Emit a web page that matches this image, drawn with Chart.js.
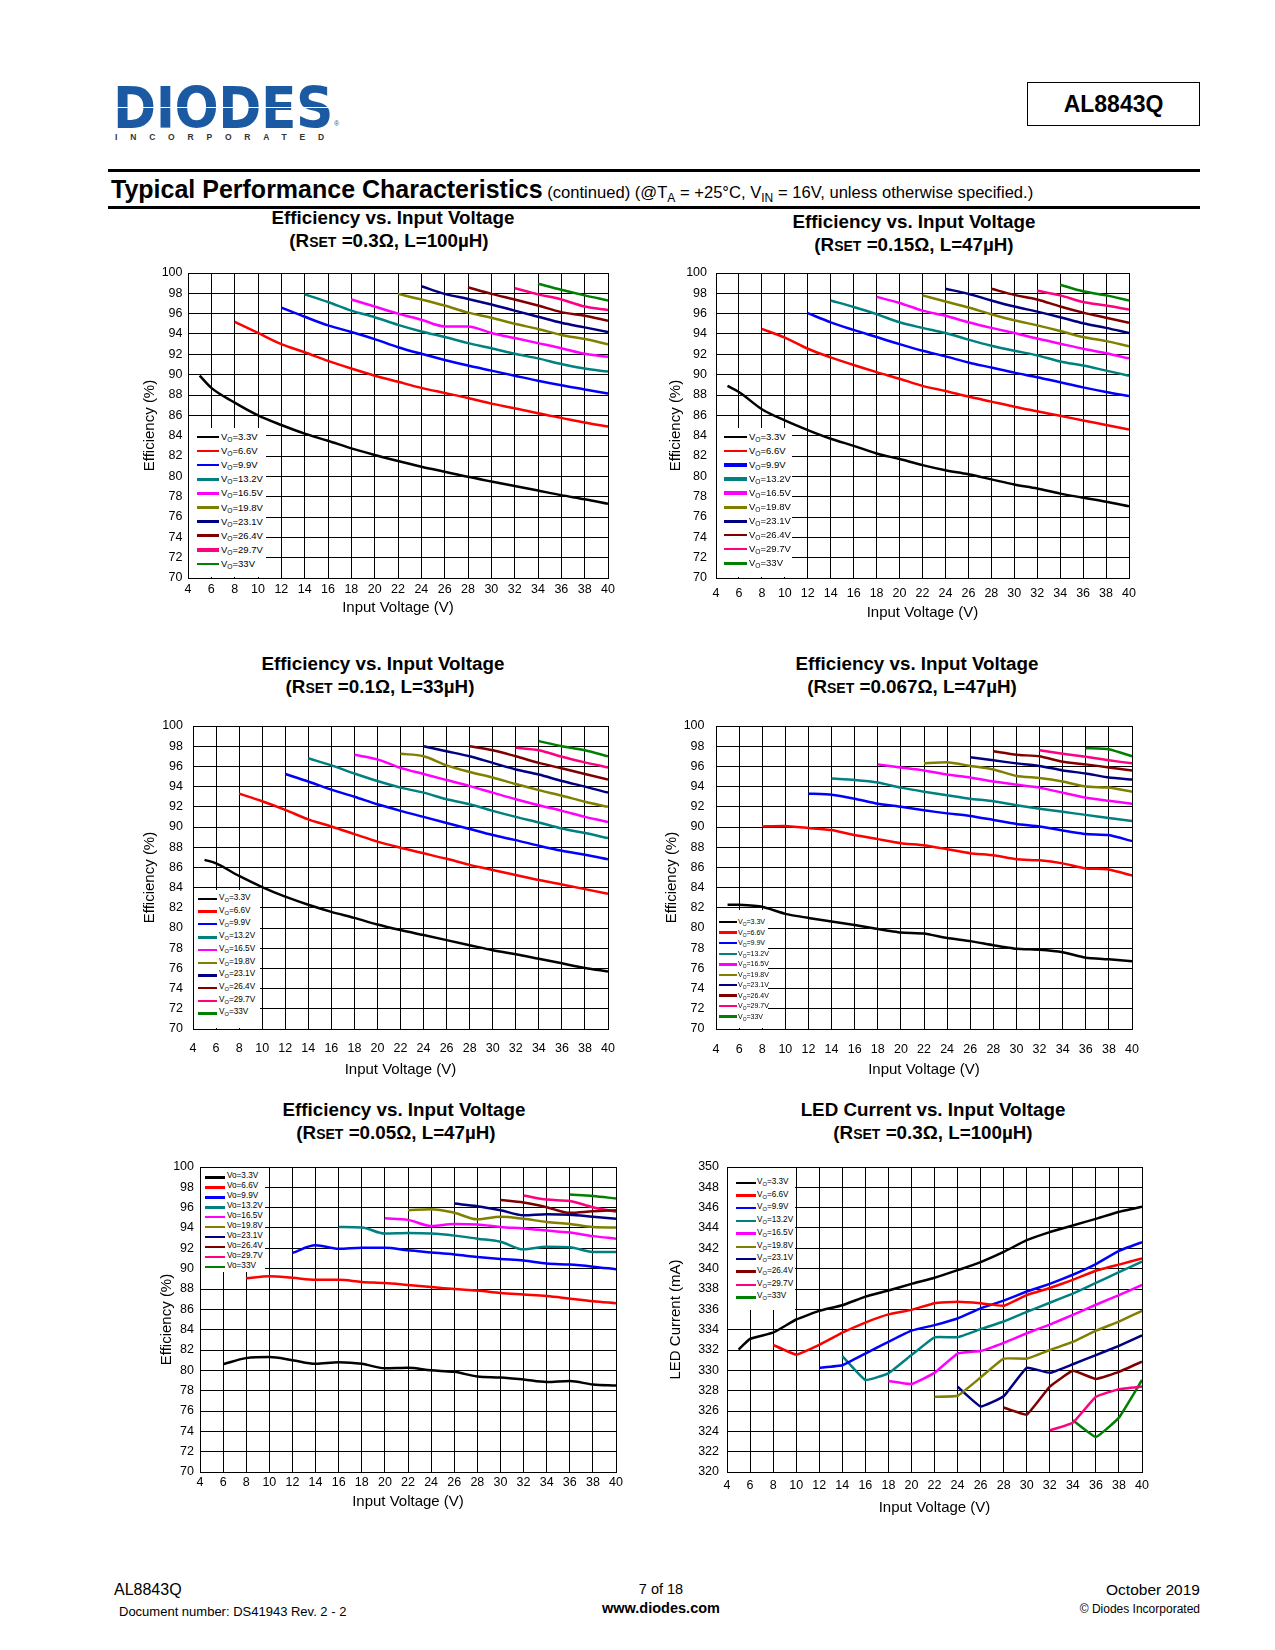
<!DOCTYPE html>
<html lang="en">
<head>
<meta charset="UTF-8">
<title>AL8843Q - Typical Performance Characteristics</title>
<script src="https://cdn.jsdelivr.net/npm/chart.js"></script>
<style>
  body { margin: 0; background: #fff; font-family: 'Liberation Sans', Arial, sans-serif; color: #000; }
  .page { position: relative; width: 1275px; height: 1650px; overflow: hidden; background: #fff; }
  .abs { position: absolute; white-space: nowrap; }
  .mid { transform: translate(-50%, -50%); }
  .logo {
    font-family: 'DejaVu Sans', sans-serif; font-weight: bold; font-size: 52px; line-height: 52px; letter-spacing: -0.5px;
    transform: scaleY(1.1); transform-origin: left top;
    background: linear-gradient(to bottom, #1b5aa3 0, #1b5aa3 47%, #fff 47%, #fff 49.5%, #1b5aa3 49.5%, #1b5aa3 100%);
    -webkit-background-clip: text; background-clip: text; color: transparent;
  }
  .inc { font-size: 8.5px; font-weight: bold; letter-spacing: 12.8px; color: #333; }
  .partbox { border: 1.5px solid #000; box-sizing: border-box; font-weight: bold; font-size: 23px;
    display: flex; align-items: center; justify-content: center; }
  .rule { background: #000; height: 3px; }
  .ctitle { font-weight: bold; font-size: 18.8px; }
  .sm { font-size: 14px; }
  .legend { background: #fff; z-index: 2; }
  .legend sub { font-size: 70%; vertical-align: -0.3em; line-height: 0; }
  canvas { position: absolute; }
</style>
</head>
<body>
<div class="page" id="page">
  <div class="abs logo" style="left:113px; top:80px;">DIODES</div>
  <div class="abs inc mid" style="left:226px; top:137px;">INCORPORATED</div>
  <div class="abs" style="left:334px; top:120px; font-size:7px; color:#1b5aa3;">®</div>
  <div class="abs partbox" style="left:1027px; top:82px; width:173px; height:44px;">AL8843Q</div>

  <div class="abs rule" style="left:108px; top:169px; width:1092px;"></div>
  <div class="abs" style="left:111px; top:174px; line-height:30px;">
    <span style="font-weight:bold; font-size:25px;">Typical Performance Characteristics</span>
    <span style="font-size:16.6px;">(continued) (@T<sub style="font-size:12px">A</sub> = +25°C, V<sub style="font-size:12px">IN</sub> = 16V, unless otherwise specified.)</span>
  </div>
  <div class="abs rule" style="left:108px; top:206px; width:1092px;"></div>

  <div class="abs ctitle mid" style="left:393px; top:218px;">Efficiency vs. Input Voltage</div>
  <div class="abs ctitle mid" style="left:389px; top:241px;">(R<span class="sm">SET</span> =0.3Ω, L=100µH)</div>
  <div class="abs ctitle mid" style="left:914px; top:222px;">Efficiency vs. Input Voltage</div>
  <div class="abs ctitle mid" style="left:914px; top:245px;">(R<span class="sm">SET</span> =0.15Ω, L=47µH)</div>
  <div class="abs ctitle mid" style="left:383px; top:664px;">Efficiency vs. Input Voltage</div>
  <div class="abs ctitle mid" style="left:380px; top:687px;">(R<span class="sm">SET</span> =0.1Ω, L=33µH)</div>
  <div class="abs ctitle mid" style="left:917px; top:664px;">Efficiency vs. Input Voltage</div>
  <div class="abs ctitle mid" style="left:912px; top:687px;">(R<span class="sm">SET</span> =0.067Ω, L=47µH)</div>
  <div class="abs ctitle mid" style="left:404px; top:1110px;">Efficiency vs. Input Voltage</div>
  <div class="abs ctitle mid" style="left:396px; top:1133px;">(R<span class="sm">SET</span> =0.05Ω, L=47µH)</div>
  <div class="abs ctitle mid" style="left:933px; top:1110px;">LED Current vs. Input Voltage</div>
  <div class="abs ctitle mid" style="left:933px; top:1133px;">(R<span class="sm">SET</span> =0.3Ω, L=100µH)</div>

  <div class="abs" style="left:114px; top:1581px; font-size:16px;">AL8843Q</div>
  <div class="abs" style="left:119px; top:1604px; font-size:13px;">Document number: DS41943 Rev. 2 - 2</div>
  <div class="abs mid" style="left:661px; top:1589px; font-size:14.5px;">7 of 18</div>
  <div class="abs mid" style="left:661px; top:1608px; font-size:14.5px; font-weight:bold;">www.diodes.com</div>
  <div class="abs" style="right:75px; top:1581px; font-size:15.5px;">October 2019</div>
  <div class="abs" style="right:75px; top:1602px; font-size:12px;">© Diodes Incorporated</div>
</div>

<script>
// input voltage points (V) shared by every curve
const vin = [5, 6, 8, 10, 12, 14, 16, 18, 20, 22, 24, 26, 28, 30, 32, 34, 36, 38, 40];
const vout = ['3.3', '6.6', '9.9', '13.2', '16.5', '19.8', '23.1', '26.4', '29.7', '33'];
const xTickVals = [4, 6, 8, 10, 12, 14, 16, 18, 20, 22, 24, 26, 28, 30, 32, 34, 36, 38, 40];
const effTickVals = [70, 72, 74, 76, 78, 80, 82, 84, 86, 88, 90, 92, 94, 96, 98, 100];
const ledTickVals = [320, 322, 324, 326, 328, 330, 332, 334, 336, 338, 340, 342, 344, 346, 348, 350];
const N = null;

// Efficiency (%), RSET=0.3ohm, L=100uH; one row per VO
const effR030 = [
  [89.9, 88.7, 87.25, 86.0, 85.05, 84.2, 83.5, 82.75, 82.1, 81.5, 80.95, 80.45, 79.95, 79.5, 79.05, 78.6, 78.15, 77.75, 77.3],
  [N, N, 95.2, 94.1, 93.0, 92.2, 91.35, 90.6, 89.9, 89.3, 88.7, 88.2, 87.7, 87.15, 86.7, 86.2, 85.75, 85.3, 84.9],
  [N, N, N, N, 96.6, 95.7, 94.85, 94.2, 93.5, 92.7, 92.05, 91.45, 90.9, 90.4, 89.9, 89.4, 88.95, 88.55, 88.15],
  [N, N, N, N, N, 97.9, 97.15, 96.3, 95.65, 94.9, 94.25, 93.7, 93.1, 92.6, 92.05, 91.6, 91.05, 90.6, 90.3],
  [N, N, N, N, N, N, N, 97.4, 96.7, 96.0, 95.4, 94.75, 94.75, 94.1, 93.6, 93.1, 92.6, 92.05, 91.75],
  [N, N, N, N, N, N, N, N, N, 97.95, 97.4, 96.8, 96.1, 95.6, 95.0, 94.5, 93.9, 93.5, 93.0],
  [N, N, N, N, N, N, N, N, N, N, 98.7, 97.95, 97.45, 96.9, 96.3, 95.7, 95.1, 94.65, 94.2],
  [N, N, N, N, N, N, N, N, N, N, N, N, 98.6, 97.95, 97.4, 96.8, 96.15, 95.8, 95.3],
  [N, N, N, N, N, N, N, N, N, N, N, N, N, N, 98.5, 97.9, 97.4, 96.7, 96.35],
  [N, N, N, N, N, N, N, N, N, N, N, N, N, N, N, 98.95, 98.35, 97.8, 97.3]
];

// Efficiency (%), RSET=0.15ohm, L=47uH
const effR015 = [
  [88.9, 88.3, 86.6, 85.5, 84.55, 83.7, 83.0, 82.25, 81.7, 81.1, 80.6, 80.2, 79.7, 79.2, 78.8, 78.3, 77.9, 77.5, 77.05],
  [N, N, 94.5, 93.65, 92.55, 91.7, 90.95, 90.25, 89.6, 88.9, 88.4, 87.85, 87.35, 86.85, 86.4, 85.95, 85.5, 85.05, 84.6],
  [N, N, N, N, 96.05, 95.15, 94.4, 93.7, 93.0, 92.35, 91.8, 91.2, 90.7, 90.2, 89.75, 89.25, 88.75, 88.3, 87.9],
  [N, N, N, N, N, 97.3, 96.65, 95.95, 95.15, 94.6, 94.1, 93.45, 92.85, 92.35, 91.9, 91.3, 90.9, 90.4, 89.9],
  [N, N, N, N, N, N, N, 97.65, 97.05, 96.3, 95.8, 95.15, 94.6, 94.1, 93.55, 93.05, 92.55, 92.1, 91.6],
  [N, N, N, N, N, N, N, N, N, 97.8, 97.2, 96.6, 95.95, 95.35, 94.85, 94.3, 93.7, 93.3, 92.8],
  [N, N, N, N, N, N, N, N, N, N, 98.45, 97.95, 97.3, 96.7, 96.2, 95.65, 95.05, 94.6, 94.1],
  [N, N, N, N, N, N, N, N, N, N, N, N, 98.45, 97.85, 97.4, 96.7, 96.1, 95.6, 95.1],
  [N, N, N, N, N, N, N, N, N, N, N, N, N, N, 98.25, 97.8, 97.15, 96.8, 96.4],
  [N, N, N, N, N, N, N, N, N, N, N, N, N, N, N, 98.85, 98.2, 97.8, 97.3]
];

// Efficiency (%), RSET=0.1ohm, L=33uH
const effR010 = [
  [86.75, 86.4, 85.15, 84.05, 83.1, 82.3, 81.6, 81.0, 80.35, 79.8, 79.3, 78.8, 78.3, 77.8, 77.4, 76.95, 76.5, 76.05, 75.7],
  [N, N, 93.3, 92.55, 91.7, 90.75, 90.05, 89.3, 88.55, 87.95, 87.4, 86.85, 86.25, 85.75, 85.25, 84.75, 84.3, 83.85, 83.4],
  [N, N, N, N, 95.25, 94.5, 93.7, 93.0, 92.25, 91.6, 91.0, 90.4, 89.8, 89.2, 88.7, 88.15, 87.65, 87.25, 86.8],
  [N, N, N, N, N, 96.8, 96.1, 95.3, 94.55, 93.9, 93.4, 92.75, 92.25, 91.6, 91.0, 90.45, 89.85, 89.4, 88.9],
  [N, N, N, N, N, N, N, 97.15, 96.7, 95.85, 95.25, 94.65, 94.05, 93.4, 92.75, 92.15, 91.6, 91.0, 90.5],
  [N, N, N, N, N, N, N, N, N, 97.25, 97.0, 96.1, 95.45, 94.9, 94.25, 93.65, 93.1, 92.5, 92.0],
  [N, N, N, N, N, N, N, N, N, N, 98.0, 97.5, 97.0, 96.35, 95.7, 95.2, 94.55, 94.0, 93.4],
  [N, N, N, N, N, N, N, N, N, N, N, N, 98.0, 97.6, 97.0, 96.35, 95.8, 95.25, 94.7],
  [N, N, N, N, N, N, N, N, N, N, N, N, N, N, 97.85, 97.6, 96.95, 96.4, 95.9],
  [N, N, N, N, N, N, N, N, N, N, N, N, N, N, N, 98.5, 98.0, 97.6, 97.0]
];

// Efficiency (%), RSET=0.067ohm, L=47uH
const effR0067 = [
  [82.3, 82.3, 82.1, 81.4, 81.0, 80.65, 80.3, 79.9, 79.55, 79.45, 79.0, 78.7, 78.3, 77.95, 77.85, 77.6, 77.05, 76.9, 76.7],
  [N, N, 90.05, 90.1, 89.9, 89.7, 89.2, 88.8, 88.4, 88.2, 87.8, 87.4, 87.2, 86.8, 86.7, 86.4, 85.9, 85.8, 85.2],
  [N, N, N, N, 93.3, 93.2, 92.8, 92.3, 92.0, 91.65, 91.35, 91.1, 90.7, 90.3, 90.05, 89.65, 89.3, 89.2, 88.6],
  [N, N, N, N, N, 94.8, 94.65, 94.4, 93.9, 93.5, 93.15, 92.8, 92.55, 92.15, 91.8, 91.5, 91.2, 90.9, 90.6],
  [N, N, N, N, N, N, N, 96.2, 95.9, 95.6, 95.2, 94.9, 94.5, 94.2, 93.9, 93.4, 92.9, 92.6, 92.3],
  [N, N, N, N, N, N, N, N, N, 96.3, 96.4, 96.05, 95.7, 95.05, 94.85, 94.5, 94.0, 93.9, 93.5],
  [N, N, N, N, N, N, N, N, N, N, N, 96.9, 96.6, 96.3, 96.05, 95.6, 95.3, 94.9, 94.7],
  [N, N, N, N, N, N, N, N, N, N, N, N, 97.5, 97.15, 97.0, 96.45, 96.2, 95.9, 95.6],
  [N, N, N, N, N, N, N, N, N, N, N, N, N, N, 97.6, 97.25, 96.95, 96.6, 96.3],
  [N, N, N, N, N, N, N, N, N, N, N, N, N, N, N, N, 97.8, 97.7, 97.0]
];

// Efficiency (%), RSET=0.05ohm, L=47uH
const effR005 = [
  [N, 80.6, 81.2, 81.3, 81.0, 80.65, 80.8, 80.65, 80.2, 80.25, 80.0, 79.85, 79.4, 79.3, 79.1, 78.85, 78.95, 78.6, 78.5],
  [N, N, 89.05, 89.25, 89.1, 88.9, 88.9, 88.7, 88.6, 88.4, 88.2, 88.0, 87.85, 87.6, 87.45, 87.3, 87.05, 86.8, 86.6],
  [N, N, N, N, 91.55, 92.3, 91.95, 92.05, 92.05, 91.8, 91.6, 91.4, 91.15, 90.95, 90.8, 90.5, 90.4, 90.2, 89.95],
  [N, N, N, N, N, N, 94.1, 94.05, 93.45, 93.5, 93.45, 93.25, 92.95, 92.65, 91.9, 92.15, 92.1, 91.65, 91.65],
  [N, N, N, N, N, N, N, N, 94.95, 94.8, 94.2, 94.4, 94.35, 94.1, 93.95, 93.75, 93.55, 93.2, 92.95],
  [N, N, N, N, N, N, N, N, N, 95.75, 95.85, 95.5, 94.85, 95.1, 94.9, 94.6, 94.4, 94.1, 94.05],
  [N, N, N, N, N, N, N, N, N, N, N, 96.4, 96.15, 95.75, 95.25, 95.35, 95.3, 95.1, 94.9],
  [N, N, N, N, N, N, N, N, N, N, N, N, N, 96.75, 96.5, 96.05, 95.5, 95.65, 95.75],
  [N, N, N, N, N, N, N, N, N, N, N, N, N, N, 97.2, 96.8, 96.65, 96.05, 95.6],
  [N, N, N, N, N, N, N, N, N, N, N, N, N, N, N, N, 97.3, 97.15, 96.9]
];

// LED current (mA), RSET=0.3ohm, L=100uH
const ledR030 = [
  [332.05, 333.1, 333.7, 335.0, 335.85, 336.4, 337.25, 337.85, 338.5, 339.1, 339.85, 340.65, 341.65, 342.8, 343.6, 344.25, 344.9, 345.6, 346.1],
  [N, N, 332.5, 331.55, 332.5, 333.7, 334.7, 335.5, 335.95, 336.6, 336.75, 336.6, 336.35, 337.4, 338.1, 338.9, 339.8, 340.4, 341.0],
  [N, N, N, N, 330.25, 330.5, 331.65, 332.8, 333.9, 334.45, 335.1, 336.1, 336.85, 337.75, 338.5, 339.4, 340.45, 341.75, 342.6],
  [N, N, N, N, N, 331.4, 329.05, 329.7, 331.5, 333.25, 333.25, 334.05, 334.8, 335.75, 336.65, 337.55, 338.6, 339.65, 340.7],
  [N, N, N, N, N, N, N, 328.95, 328.65, 329.75, 331.65, 331.9, 332.7, 333.65, 334.5, 335.45, 336.45, 337.4, 338.4],
  [N, N, N, N, N, N, N, N, N, 327.4, 327.5, 329.3, 331.15, 331.15, 332.0, 332.8, 333.9, 334.8, 335.85],
  [N, N, N, N, N, N, N, N, N, N, 328.4, 326.45, 327.45, 330.25, 329.75, 330.6, 331.5, 332.4, 333.45],
  [N, N, N, N, N, N, N, N, N, N, N, N, 326.35, 325.65, 328.4, 329.95, 329.15, 329.85, 330.85],
  [N, N, N, N, N, N, N, N, N, N, N, N, N, N, 324.1, 324.85, 327.4, 328.15, 328.4],
  [N, N, N, N, N, N, N, N, N, N, N, N, N, N, N, 325.1, 323.45, 325.35, 329.05]
];

const lineColors = ['#000000', '#ff0000', '#0000ff', '#008080', '#ff00ff', '#808000', '#000080', '#800000', '#ff0080', '#008000'];

Chart.defaults.font.family = "'Liberation Sans', Arial, sans-serif";
Chart.defaults.color = '#000';

const page = document.getElementById('page');

function drawPanel(p) {
  const cL = p.yTitleX - 9, cT = p.t - 10, cR = p.r + 16, cB = p.xTitleY + 9;
  const cv = document.createElement('canvas');
  cv.width = cR - cL; cv.height = cB - cT;
  cv.style.left = cL + 'px'; cv.style.top = cT + 'px';
  cv.style.width = (cR - cL) + 'px'; cv.style.height = (cB - cT) + 'px';
  page.appendChild(cv);

  new Chart(cv, {
    type: 'line',
    data: {
      datasets: p.series.map((vals, i) => ({
        label: 'VO=' + vout[i] + 'V',
        data: vin.map((x, k) => ({ x: x, y: vals[k] })).filter(d => d.y !== null),
        borderColor: lineColors[i],
        borderWidth: 2.5,
        pointRadius: 0,
        fill: false,
        tension: p.tension,
        cubicInterpolationMode: p.mono ? 'monotone' : 'default'
      }))
    },
    options: {
      responsive: false,
      animation: false,
      layout: { padding: { top: 10, right: 16, bottom: 0, left: 0 }, autoPadding: false },
      plugins: { legend: { display: false }, tooltip: { enabled: false } },
      scales: {
        x: {
          type: 'linear', min: 4, max: 40,
          afterBuildTicks: s => { s.ticks = xTickVals.map(v => ({ value: v })); },
          afterFit: s => { s.height = cB - p.b; s.paddingLeft = 0; s.paddingRight = 0; },
          grid: { color: '#000', lineWidth: 1, drawTicks: false },
          border: { color: '#000', width: 1 },
          ticks: { color: '#000', padding: p.xPad, maxRotation: 0, autoSkip: false, font: { size: 12.5 } },
          title: { display: true, text: 'Input Voltage (V)', color: '#000', font: { size: 15 }, padding: 0 }
        },
        y: {
          type: 'linear', min: p.ticks[0], max: p.ticks[p.ticks.length - 1],
          afterBuildTicks: s => { s.ticks = p.ticks.map(v => ({ value: v })); },
          afterFit: s => { s.width = p.l - cL; s.paddingTop = 0; s.paddingBottom = 0; },
          grid: { color: '#000', lineWidth: 1, drawTicks: false },
          border: { color: '#000', width: 1 },
          ticks: { color: '#000', padding: p.yPad, autoSkip: false, font: { size: 12.5 } },
          title: { display: true, text: p.yTitle, color: '#000', font: { size: 15 }, padding: 0 }
        }
      }
    }
  });

  // legend box sitting inside the plot, like the datasheet
  const lg = p.legend;
  const box = document.createElement('div');
  box.className = 'abs legend';
  box.style.cssText += `left:${lg.box[0]}px;top:${lg.box[1]}px;width:${lg.box[2] - lg.box[0]}px;height:${lg.box[3] - lg.box[1]}px;`;
  page.appendChild(box);
  vout.forEach((v, i) => {
    const cy = lg.y0 + lg.dy * i - lg.box[1];
    const th = lg.thick[i];
    const sw = document.createElement('div');
    sw.className = 'abs';
    sw.style.cssText += `left:${lg.sw[0] - lg.box[0]}px;top:${cy - th / 2}px;width:${lg.sw[1] - lg.sw[0]}px;height:${th}px;background:${lineColors[i]};`;
    box.appendChild(sw);
    const tx = document.createElement('div');
    tx.className = 'abs';
    tx.style.cssText += `left:${lg.tx - lg.box[0]}px;top:${cy}px;transform:translateY(-55%);font-size:${lg.fs}px;line-height:1;`;
    tx.innerHTML = lg.plain ? 'Vo=' + v + 'V' : 'V<sub>O</sub>=' + v + 'V';
    box.appendChild(tx);
  });
}

drawPanel({ series: effR030, l: 188, t: 273, r: 608, b: 578, yTitleX: 150, xTitleY: 608, xPad: 4.5, yPad: 5.5,
  ticks: effTickVals, yTitle: 'Efficiency (%)', tension: 0.4, mono: true,
  legend: { box: [189, 428, 266, 577], y0: 437, dy: 14.1, sw: [197, 219], tx: 221, fs: 9.5, thick: [2.5, 2.5, 2.5, 2.5, 2.5, 3.5, 3.5, 3.5, 3.5, 2] } });

drawPanel({ series: effR015, l: 716, t: 273, r: 1129, b: 578, yTitleX: 676, xTitleY: 613, xPad: 8, yPad: 9,
  ticks: effTickVals, yTitle: 'Efficiency (%)', tension: 0.4, mono: true,
  legend: { box: [717, 428, 792, 577], y0: 437, dy: 14.05, sw: [724, 747], tx: 749, fs: 9.5, thick: [2, 2, 3.5, 3.5, 3.5, 3.5, 2.5, 2, 2, 2.5] } });

drawPanel({ series: effR010, l: 193, t: 726, r: 608, b: 1029, yTitleX: 150, xTitleY: 1070, xPad: 12.5, yPad: 10,
  ticks: effTickVals, yTitle: 'Efficiency (%)', tension: 0.4, mono: true,
  legend: { box: [194, 890, 260, 1028], y0: 899, dy: 12.7, sw: [198, 217], tx: 219, fs: 8.2, thick: [2, 3, 2, 3, 2, 2, 3, 2, 2, 3] } });

drawPanel({ series: effR0067, l: 716, t: 726, r: 1132, b: 1029, yTitleX: 672, xTitleY: 1070, xPad: 13.5, yPad: 11.5,
  ticks: effTickVals, yTitle: 'Efficiency (%)', tension: 0.15, mono: false,
  legend: { box: [717, 910, 768, 1028], y0: 922, dy: 10.55, sw: [719, 737], tx: 738, fs: 7, thick: [2, 3, 2, 2, 3, 2, 2, 3, 2, 3] } });

drawPanel({ series: effR005, l: 200, t: 1167, r: 616, b: 1472, yTitleX: 167, xTitleY: 1502, xPad: 3.5, yPad: 6,
  ticks: effTickVals, yTitle: 'Efficiency (%)', tension: 0.4, mono: true,
  legend: { box: [201, 1168, 265, 1272], y0: 1177, dy: 10, sw: [205, 225], tx: 227, fs: 8.2, plain: true, thick: [3, 3, 3, 3, 2, 2, 2, 2, 2, 2] } });

drawPanel({ series: ledR030, l: 727, t: 1167, r: 1142, b: 1472, yTitleX: 676, xTitleY: 1508, xPad: 6.5, yPad: 8,
  ticks: ledTickVals, yTitle: 'LED Current (mA)', tension: 0.1, mono: false,
  legend: { box: [728, 1168, 795, 1310], y0: 1183, dy: 12.7, sw: [736, 756], tx: 757, fs: 8.2, thick: [2, 3, 2, 2, 3, 2, 2, 3, 2, 3] } });
</script>
</body>
</html>
